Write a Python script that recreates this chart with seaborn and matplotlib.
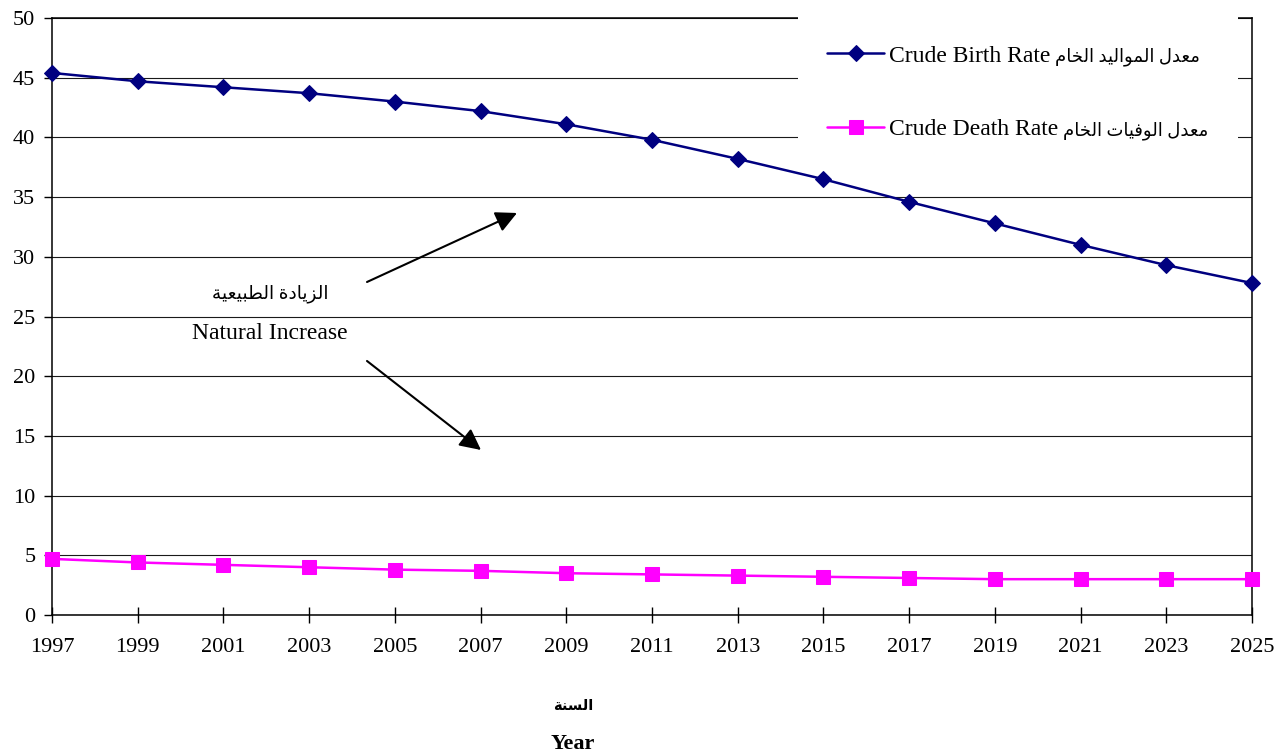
import matplotlib
matplotlib.use('Agg')
import matplotlib.pyplot as plt
from matplotlib.offsetbox import TextArea
import seaborn as sns
import pandas as pd

years = [1997, 1999, 2001, 2003, 2005, 2007, 2009, 2011, 2013, 2015, 2017, 2019, 2021, 2023, 2025]
birth_rate = [45.4, 44.7, 44.2, 43.7, 43.0, 42.2, 41.1, 39.8, 38.2, 36.5, 34.6, 32.8, 31.0, 29.3, 27.8]
death_rate = [4.7, 4.4, 4.2, 4.0, 3.8, 3.7, 3.5, 3.4, 3.3, 3.2, 3.1, 3.0, 3.0, 3.0, 3.0]
y_ticks = [0, 5, 10, 15, 20, 25, 30, 35, 40, 45, 50]

birth_label = 'Crude Birth Rate'
birth_label_ar = 'معدل المواليد الخام'
death_label = 'Crude Death Rate'
death_label_ar = 'معدل الوفيات الخام'
note_ar = 'الزيادة الطبيعية'
note_en = 'Natural Increase'
xlabel_ar = 'السنة'
xlabel_en = 'Year'

# matplotlib has no arabic shaping, so pick the joined forms by hand
FORMS = {
    'ا': ('\uFE8D', '\uFE8E', None, None),
    'ب': ('\uFE8F', '\uFE90', '\uFE91', '\uFE92'),
    'ة': ('\uFE93', '\uFE94', None, None),
    'ت': ('\uFE95', '\uFE96', '\uFE97', '\uFE98'),
    'خ': ('\uFEA5', '\uFEA6', '\uFEA7', '\uFEA8'),
    'د': ('\uFEA9', '\uFEAA', None, None),
    'ز': ('\uFEAF', '\uFEB0', None, None),
    'س': ('\uFEB1', '\uFEB2', '\uFEB3', '\uFEB4'),
    'ط': ('\uFEC1', '\uFEC2', '\uFEC3', '\uFEC4'),
    'ع': ('\uFEC9', '\uFECA', '\uFECB', '\uFECC'),
    'ف': ('\uFED1', '\uFED2', '\uFED3', '\uFED4'),
    'ل': ('\uFEDD', '\uFEDE', '\uFEDF', '\uFEE0'),
    'م': ('\uFEE1', '\uFEE2', '\uFEE3', '\uFEE4'),
    'ن': ('\uFEE5', '\uFEE6', '\uFEE7', '\uFEE8'),
    'و': ('\uFEED', '\uFEEE', None, None),
    'ي': ('\uFEF1', '\uFEF2', '\uFEF3', '\uFEF4'),
}


def shape(text):
    out = []
    for i, ch in enumerate(text):
        if ch not in FORMS:
            out.append(ch)
            continue
        iso, fin, ini, med = FORMS[ch]
        prev = text[i - 1] if i > 0 else None
        nxt = text[i + 1] if i + 1 < len(text) else None
        join_prev = prev in FORMS and FORMS[prev][2] is not None
        join_next = nxt in FORMS and ini is not None
        if join_prev and join_next:
            out.append(med)
        elif join_prev:
            out.append(fin)
        elif join_next:
            out.append(ini)
        else:
            out.append(iso)
    return ''.join(reversed(out))


sns.set_style('white')
fonts = ['Liberation Serif', 'DejaVu Sans']
plt.rcParams['font.family'] = fonts
plt.rcParams['text.color'] = 'black'
plt.rcParams['xtick.color'] = 'black'
plt.rcParams['ytick.color'] = 'black'

df = pd.DataFrame({'Year': years, 'Birth': birth_rate, 'Death': death_rate})

fig = plt.figure(figsize=(12.76, 7.56), dpi=100)
ax = fig.add_axes([52 / 1276, 1 - 615 / 756, 1200 / 1276, 597 / 756])

sns.lineplot(data=df, x='Year', y='Birth', ax=ax, color='#000080', lw=1.8,
             marker='D', markersize=8, markeredgecolor='#000080', zorder=4, clip_on=False,
             label=birth_label)
sns.lineplot(data=df, x='Year', y='Death', ax=ax, color='#FF00FF', lw=1.8,
             marker='s', markersize=10, markeredgecolor='#FF00FF', zorder=4, clip_on=False,
             label=death_label)

ax.set_xlim(1997, 2025)
ax.set_ylim(0, 50)
ax.set_xticks(years)
ax.set_yticks(y_ticks)
ax.set_xlabel('')
ax.set_ylabel('')
ax.yaxis.grid(True, color='#1a1a1a', lw=0.8)
ax.set_axisbelow(True)
for s in ax.spines.values():
    s.set_color('black')
    s.set_linewidth(1.1)

ax.tick_params(axis='x', direction='inout', length=11, width=1, labelsize=16, pad=11,
               color='black', labelcolor='black', bottom=True)
ax.tick_params(axis='y', direction='out', length=6, width=1, labelsize=16, pad=6,
               color='black', labelcolor='black', left=True)

leg = ax.legend(loc='upper right', bbox_to_anchor=(0.988, 1.004), borderaxespad=0,
                frameon=True, fancybox=False, framealpha=1, facecolor='white', edgecolor='none',
                fontsize=17, labelspacing=2.2, handlelength=2.4, handletextpad=0.2,
                borderpad=1.25)
leg.set_zorder(3)

# arabic half of each label goes in the same legend row, a bit smaller
rows = leg._legend_handle_box.get_children()[0].get_children()
for row, ar in zip(rows, [birth_label_ar, death_label_ar]):
    ta = TextArea(shape(ar), textprops=dict(fontsize=13, fontfamily=fonts, color='black'))
    ta.set_figure(fig)
    row.get_children().append(ta)

ax.text(0.1817, 0.539, shape(note_ar), transform=ax.transAxes, ha='center', va='center', fontsize=13.3)
ax.text(0.1817, 0.4707, note_en, transform=ax.transAxes, ha='center', va='center', fontsize=17)

arrow = dict(arrowstyle='-|>', color='black', lw=1.5, mutation_scale=32, shrinkA=0, shrinkB=0)
ax.annotate('', xy=(0.3875, 0.6734), xytext=(0.2625, 0.5578),
            xycoords='axes fraction', textcoords='axes fraction', arrowprops=arrow)
ax.annotate('', xy=(0.3575, 0.2764), xytext=(0.2625, 0.4255),
            xycoords='axes fraction', textcoords='axes fraction', arrowprops=arrow)

fig.text(573 / 1276, 1 - 706 / 756, shape(xlabel_ar), ha='center', va='center', fontsize=10.5, fontweight='bold')
fig.text(573 / 1276, 1 - 744 / 756, xlabel_en, ha='center', va='center', fontsize=16, fontweight='bold')

fig.savefig('out.png', dpi=100, facecolor='white')
